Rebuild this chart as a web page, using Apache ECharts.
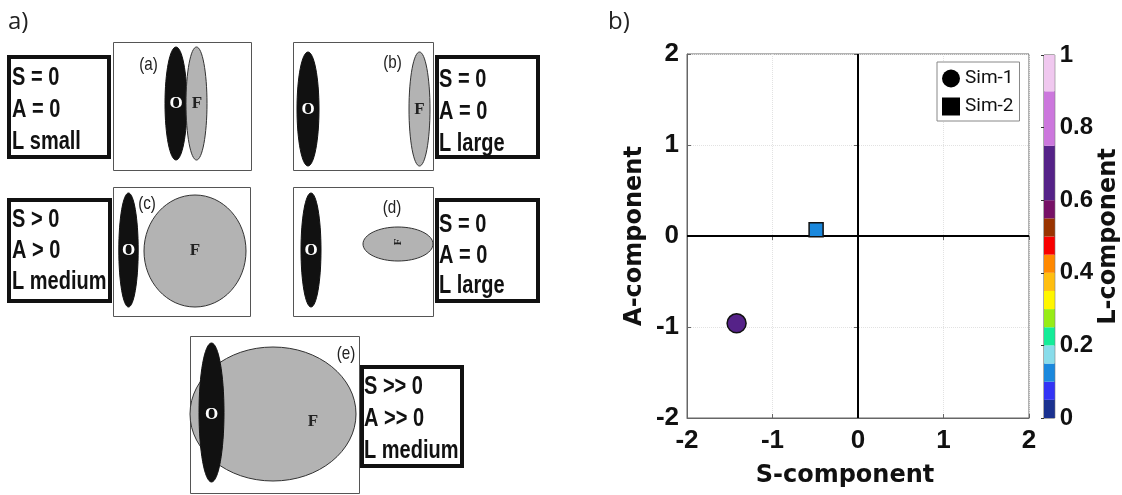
<!DOCTYPE html>
<html><head><meta charset="utf-8">
<script src="https://cdn.jsdelivr.net/npm/echarts@6/dist/echarts.min.js"></script>
<style>html,body{margin:0;padding:0;background:#fff}#c{width:1122px;height:495px}</style>
</head><body><div id="c"></div>
<script>
// ---- data ----
const seriesNames = ['Sim-1', 'Sim-2'];
const sComponent = [-1.42, -0.49];
const aComponent = [-0.96, 0.07];
const lComponent = [0.68, 0.12];
const axisMin = -2, axisMax = 2, axisStep = 1;
const lBreaks = [0, 0.05, 0.1, 0.15, 0.2, 0.25, 0.3, 0.35, 0.4, 0.45, 0.5, 0.55, 0.6, 0.75, 0.9, 1];
const lColors = ['#1a3190', '#3333f5', '#1a88dd', '#88dcea', '#14ec98', '#97ec16', '#fff600', '#ffbe10', '#ff8800', '#f80000', '#993300', '#771166', '#552288', '#cc77dd', '#f0c8ef'];
const panelLabels = ['(a)', '(b)', '(c)', '(d)', '(e)'];
const panelTexts = ['S = 0\nA = 0\nL small', 'S = 0\nA = 0\nL large', 'S > 0\nA > 0\nL medium', 'S = 0\nA = 0\nL large', 'S >> 0\nA >> 0\nL medium'];

// ---- diagram helpers ----
const G = [];
function box(x, y, w, h, stroke, lw) {
  G.push({type: 'rect', shape: {x, y, width: w, height: h}, style: {fill: '#fff', stroke, lineWidth: lw}});
}
function ell(cx, cy, rx, ry, fill, stroke) {
  G.push({type: 'ellipse', shape: {cx, cy, rx, ry}, style: {fill, stroke, lineWidth: 1}});
}
function txt(x, y, text, font, fill, align, va, lh, rot, sx) {
  G.push({type: 'text', x, y, rotation: rot || 0, scaleX: sx || 1,
    style: {x: 0, y: 0, text, font, fill, align, verticalAlign: va, textAlign: align, textVerticalAlign: va, lineHeight: lh}});
}
const boldNarrow = 'bold 25px "Liberation Sans"';
const NARROW = 0.8;
const labFont = '19px "Liberation Sans"';
const serif = 'bold 17px "Liberation Serif"';

txt(8, 22, 'a)', '24px "Open Sans"', '#222', 'left', 'middle');
txt(608, 22, 'b)', '24px "Open Sans"', '#222', 'left', 'middle');

// (a)
box(113.5, 42.5, 138, 128, '#555', 1);
box(9, 57, 100, 100, '#111', 4);
txt(12, 62, panelTexts[0], boldNarrow, '#111', 'left', 'top', 32, 0, NARROW);
ell(176, 103.5, 11, 56.5, '#111', '#111');
ell(196.5, 103.5, 10.5, 56.5, '#b3b3b3', '#333');
txt(176, 104, 'O', serif, '#fff', 'center', 'middle');
txt(197, 104, 'F', serif, '#222', 'center', 'middle');
txt(148.5, 65, panelLabels[0], labFont, '#222', 'center', 'middle', null, 0, NARROW);
// (b)
box(293.5, 42.5, 140, 128, '#555', 1);
box(437, 57, 101, 100, '#111', 4);
txt(439, 64, panelTexts[1], boldNarrow, '#111', 'left', 'top', 32, 0, NARROW);
ell(308, 109, 11, 57, '#111', '#111');
ell(419.5, 109, 10.5, 57, '#b3b3b3', '#333');
txt(308, 110, 'O', serif, '#fff', 'center', 'middle');
txt(419.5, 110, 'F', serif, '#222', 'center', 'middle');
txt(392.5, 63, panelLabels[1], labFont, '#222', 'center', 'middle', null, 0, NARROW);
// (c)
box(113.5, 187.5, 137, 129, '#555', 1);
box(9, 200, 101, 101, '#111', 4);
txt(12, 205, panelTexts[2], boldNarrow, '#111', 'left', 'top', 31, 0, NARROW);
ell(128.5, 250, 9.7, 57, '#111', '#111');
ell(195, 251, 51, 56, '#b3b3b3', '#333');
txt(128.5, 251, 'O', serif, '#fff', 'center', 'middle');
txt(195, 251, 'F', serif, '#222', 'center', 'middle');
txt(147, 204, panelLabels[2], labFont, '#222', 'center', 'middle', null, 0, NARROW);
// (d)
box(293.5, 187.5, 140, 129, '#555', 1);
box(437, 200, 101, 101, '#111', 4);
txt(439, 210, panelTexts[3], boldNarrow, '#111', 'left', 'top', 30.5, 0, NARROW);
ell(311, 250, 10, 57, '#111', '#111');
ell(398, 244, 35, 17, '#b3b3b3', '#333');
txt(311, 251, 'O', serif, '#fff', 'center', 'middle');
txt(398, 242, 'F', 'bold 11px "Liberation Serif"', '#222', 'center', 'middle', null, Math.PI / 2);
txt(392, 208, panelLabels[3], labFont, '#222', 'center', 'middle', null, 0, NARROW);
// (e)
box(190.5, 336.5, 169, 157, '#555', 1);
box(362, 367, 100, 99, '#111', 4);
txt(364, 371, panelTexts[4], boldNarrow, '#111', 'left', 'top', 32, 0, NARROW);
ell(273, 414, 83, 67, '#b3b3b3', '#333');
ell(211.5, 412.5, 12.5, 69.5, '#111', '#111');
txt(211.5, 415, 'O', serif, '#fff', 'center', 'middle');
txt(313, 422, 'F', serif, '#222', 'center', 'middle');
txt(346, 354, panelLabels[4], labFont, '#222', 'center', 'middle', null, 0, NARROW);

// ---- chart ----
const pieces = lColors.map((c, i) => ({gte: lBreaks[i], lt: lBreaks[i + 1], color: c}));
pieces[pieces.length - 1].lte = 1; delete pieces[pieces.length - 1].lt;
const barData = lColors.map((c, i) => [lBreaks[i], lBreaks[i + 1], i]);
const tickFont = {fontFamily: 'Liberation Sans', fontWeight: 'bold', fontSize: 26, color: '#111'};
const nameFont = {fontFamily: 'DejaVu Sans', fontWeight: 'bold', fontSize: 24, color: '#111'};

const chart = echarts.init(document.getElementById('c'), null, {renderer: 'canvas'});
chart.setOption({
  animation: false,
  graphic: {elements: G},
  grid: [
    {left: 687, right: 93, top: 54, bottom: 77, show: true, borderColor: '#666', borderWidth: 1},
    {left: 1044, width: 14, top: 55, height: 363, show: true, borderColor: '#555', borderWidth: 1}
  ],
  xAxis: [
    {type: 'value', gridIndex: 0, min: axisMin, max: axisMax, interval: axisStep, position: 'bottom',
      axisLine: {show: true, onZero: false, lineStyle: {color: '#666'}},
      axisTick: {inside: true, length: 4, lineStyle: {color: '#666'}},
      axisLabel: Object.assign({margin: 10}, tickFont),
      splitLine: {show: true, lineStyle: {color: '#e2e2e2', type: 'dotted'}},
      name: 'S-component', nameLocation: 'middle', nameGap: 46,
      nameTextStyle: Object.assign({padding: [0, 26, 0, 0]}, nameFont)},
    {type: 'value', gridIndex: 0, min: axisMin, max: axisMax, interval: axisStep, position: 'top',
      axisLine: {show: false}, axisTick: {inside: true, length: 4, lineStyle: {color: '#666'}},
      axisLabel: {show: false}, splitLine: {show: false}},
    {type: 'value', gridIndex: 1, min: 0, max: 1, show: false}
  ],
  yAxis: [
    {type: 'value', gridIndex: 0, min: axisMin, max: axisMax, interval: axisStep, position: 'left',
      axisLine: {show: true, onZero: false, lineStyle: {color: '#666'}},
      axisTick: {inside: true, length: 4, lineStyle: {color: '#666'}},
      axisLabel: Object.assign({margin: 8}, tickFont),
      splitLine: {show: true, lineStyle: {color: '#e2e2e2', type: 'dotted'}},
      name: 'A-component', nameLocation: 'middle', nameGap: 40, nameTextStyle: nameFont},
    {type: 'value', gridIndex: 0, min: axisMin, max: axisMax, interval: axisStep, position: 'right',
      axisLine: {show: false}, axisTick: {inside: true, length: 4, lineStyle: {color: '#666'}},
      axisLabel: {show: false}, splitLine: {show: false}},
    {type: 'value', gridIndex: 1, min: 0, max: 1, interval: 0.2, position: 'right',
      axisLine: {show: false}, axisTick: {inside: true, length: 3, lineStyle: {color: '#333'}},
      axisLabel: {margin: 5, fontFamily: 'Liberation Sans', fontWeight: 'bold', fontSize: 24, color: '#111'},
      splitLine: {show: false},
      name: 'L-component', nameLocation: 'middle', nameGap: 40, nameTextStyle: nameFont}
  ],
  visualMap: {type: 'piecewise', show: false, dimension: 2, seriesIndex: [0, 1], pieces},
  legend: {
    left: 937, top: 62, orient: 'vertical', itemWidth: 18, itemHeight: 18, itemGap: 9, itemTextGap: 7,
    padding: [7, 6, 5, 5], borderColor: '#888', borderWidth: 1, backgroundColor: '#fff',
    textStyle: {fontFamily: 'Roboto', fontSize: 19, color: '#111', lineHeight: 18},
    data: [
      {name: seriesNames[0], icon: 'circle', itemStyle: {color: '#000', borderWidth: 0}},
      {name: seriesNames[1], icon: 'rect', itemStyle: {color: '#000', borderWidth: 0}}
    ]
  },
  series: [
    {type: 'scatter', name: seriesNames[0], xAxisIndex: 0, yAxisIndex: 0, z: 5, symbol: 'circle', symbolSize: 19,
      itemStyle: {borderColor: '#111', borderWidth: 1.5, opacity: 1},
      data: [[sComponent[0], aComponent[0], lComponent[0]]]},
    {type: 'scatter', name: seriesNames[1], xAxisIndex: 0, yAxisIndex: 0, z: 5, symbol: 'rect', symbolSize: 14,
      itemStyle: {borderColor: '#111', borderWidth: 1.5, opacity: 1},
      data: [[sComponent[1], aComponent[1], lComponent[1]]]},
    {type: 'scatter', name: 'zero', xAxisIndex: 0, yAxisIndex: 0, z: 1, data: [], silent: true,
      markLine: {silent: true, symbol: 'none', label: {show: false},
        lineStyle: {color: '#000', width: 2, type: 'solid'},
        data: [{xAxis: 0}, {yAxis: 0}]}},
    {type: 'custom', name: 'cbar', xAxisIndex: 2, yAxisIndex: 2, silent: true, data: barData,
      renderItem: function (params, api) {
        const p0 = api.coord([0, api.value(0)]);
        const p1 = api.coord([1, api.value(1)]);
        return {type: 'rect', shape: {x: p0[0], y: p1[1], width: p1[0] - p0[0], height: p0[1] - p1[1]},
          style: {fill: lColors[api.value(2)]}};
      }}
  ]
});
</script></body></html>
